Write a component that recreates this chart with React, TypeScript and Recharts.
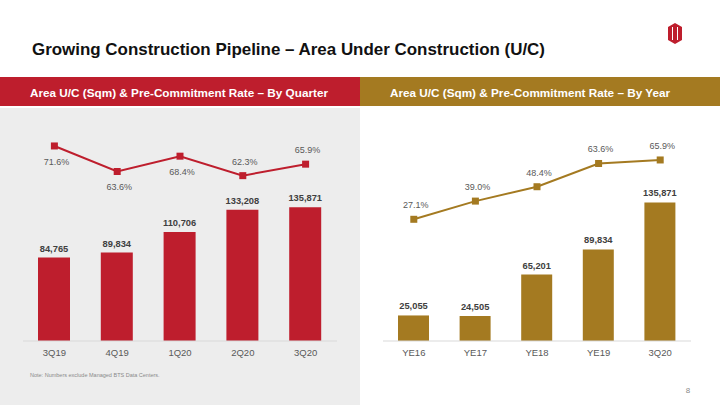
import React from 'react';
import {
    ComposedChart,
    Bar,
    Line,
    XAxis,
    YAxis,
    LabelList,
} from 'recharts';

// Quarterly data (left panel)
const quarters = ['3Q19', '4Q19', '1Q20', '2Q20', '3Q20'];
const quarterArea = [84765, 89834, 110706, 133208, 135871];
const quarterRate = [71.6, 63.6, 68.4, 62.3, 65.9];

// Yearly data (right panel)
const years = ['YE16', 'YE17', 'YE18', 'YE19', '3Q20'];
const yearArea = [25055, 24505, 65201, 89834, 135871];
const yearRate = [27.1, 39.0, 48.4, 63.6, 65.9];

// which quarter rate labels sit above the marker (rest go below)
const quarterLabelAbove = [false, false, false, true, true];

const RED = '#be1e2d';
const GOLD = '#a47a21';
const FONT = '"Liberation Sans", Arial, sans-serif';

const quarterData = quarters.map((name, i) => ({ name, area: quarterArea[i], rate: quarterRate[i] }));
const yearData = years.map((name, i) => ({ name, area: yearArea[i], rate: yearRate[i] }));

const fmtNum = (v: number) => v.toLocaleString('en-US');

// Square marker used on both lines
const squareDot = (color: string) => (props: any) => {
    const { cx, cy, index } = props;
    return <rect key={`dot-${index}`} x={cx - 3.5} y={cy - 3.5} width={7} height={7} fill={color} />;
};

const barLabel = (props: any) => {
    const { x, y, width, value, index } = props;
    return (
        <text key={`bl-${index}`} x={x + width / 2} y={y - 6} textAnchor="middle"
            fontSize={9.3} fontWeight="bold" fill="#404040" fontFamily={FONT}>
            {fmtNum(value)}
        </text>
    );
};

const rateLabel = (above: (i: number) => boolean) => (props: any) => {
    const { x, y, value, index } = props;
    const ty = above(index) ? y - 11 : y + 19;
    return (
        <text key={`rl-${index}`} x={x + 2} y={ty} textAnchor="middle"
            fontSize={9} fill="#595959" fontFamily={FONT}>
            {value.toFixed(1)}%
        </text>
    );
};

interface PanelProps {
    data: { name: string; area: number; rate: number }[];
    color: string;
    left: number;
    marginLeft: number;
    marginRight: number;
    barSize: number;
    areaMax: number;
    rateDomain: [number, number];
    labelAbove: (i: number) => boolean;
}

const Panel: React.FC<PanelProps> = ({ data, color, left, marginLeft, marginRight, barSize, areaMax, rateDomain, labelAbove }) => (
    <div style={{ position: 'absolute', left, top: 110 }}>
        <ComposedChart width={360} height={260} data={data}
            margin={{ top: 20, right: marginRight, left: marginLeft, bottom: 0 }}>
            <XAxis dataKey="name" height={29} tickLine={false}
                axisLine={{ stroke: '#d9d9d9' }}
                tick={{ fontSize: 9.5, fill: '#595959', fontFamily: FONT }} />
            <YAxis yAxisId="area" hide domain={[0, areaMax]} allowDataOverflow />
            <YAxis yAxisId="rate" hide orientation="right" domain={rateDomain} allowDataOverflow />
            <Bar yAxisId="area" dataKey="area" fill={color} barSize={barSize} isAnimationActive={false}>
                <LabelList dataKey="area" content={barLabel} />
            </Bar>
            <Line yAxisId="rate" dataKey="rate" stroke={color} strokeWidth={2}
                dot={squareDot(color)} activeDot={false} isAnimationActive={false}>
                <LabelList dataKey="rate" content={rateLabel(labelAbove)} />
            </Line>
        </ComposedChart>
    </div>
);

export default function App() {
    return (
        <div style={{ position: 'absolute', left: 0, top: 0, width: 720, height: 405, background: '#fff', overflow: 'hidden', fontFamily: FONT }}>
            {/* backgrounds & headers */}
            <svg width={720} height={405} style={{ position: 'absolute', left: 0, top: 0 }}>
                <rect x={0} y={108} width={360} height={297} fill="#ededed" />
                <rect x={0} y={77} width={360} height={29} fill={RED} />
                <rect x={360} y={77} width={360} height={29} fill={GOLD} />
                <text x={32} y={55} fontSize={17} fontWeight="bold" fill="#111" fontFamily={FONT}
                    textLength={513} lengthAdjust="spacingAndGlyphs">
                    Growing Construction Pipeline – Area Under Construction (U/C)
                </text>
                <text x={30} y={97} fontSize={11} fontWeight="bold" fill="#fff" fontFamily={FONT}
                    textLength={298} lengthAdjust="spacingAndGlyphs">
                    Area U/C (Sqm) &amp; Pre-Commitment Rate – By Quarter
                </text>
                <text x={390} y={97} fontSize={11} fontWeight="bold" fill="#fff" fontFamily={FONT}
                    textLength={280} lengthAdjust="spacingAndGlyphs">
                    Area U/C (Sqm) &amp; Pre-Commitment Rate – By Year
                </text>
                {/* logo */}
                <polygon points="668,27 675,23 682,27 682,40 675,44 668,40" fill={RED} />
                <line x1={672.5} y1={27} x2={672.5} y2={40} stroke="#fff" strokeWidth={1} />
                <line x1={677.5} y1={27} x2={677.5} y2={40} stroke="#fff" strokeWidth={1} />
                <text x={30} y={377} fontSize={5.5} fill="#8a8a8a" fontFamily={FONT}>
                    Note: Numbers exclude Managed BTS Data Centers.
                </text>
                <text x={688} y={393} fontSize={8} fill="#8a8a8a" fontFamily={FONT} textAnchor="middle">8</text>
            </svg>
            <Panel data={quarterData} color={RED} left={0} marginLeft={23} marginRight={23} barSize={32}
                areaMax={214200} rateDomain={[10.5, 76.6]} labelAbove={(i) => quarterLabelAbove[i]} />
            <Panel data={yearData} color={GOLD} left={360} marginLeft={23} marginRight={29} barSize={31}
                areaMax={206900} rateDomain={[-52.5, 85.5]} labelAbove={() => true} />
        </div>
    );
}
